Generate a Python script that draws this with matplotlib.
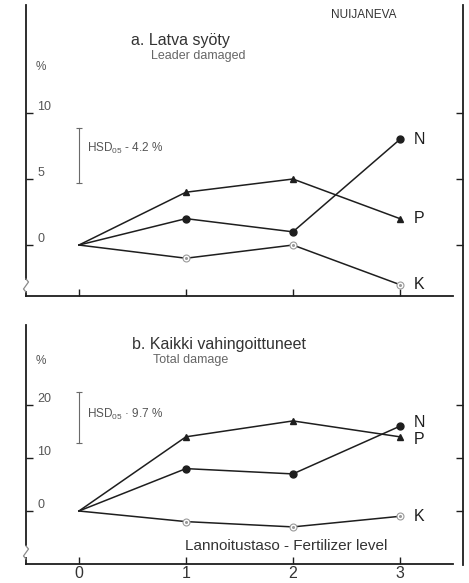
import matplotlib
matplotlib.use("Agg")
import matplotlib.pyplot as plt
from matplotlib.lines import Line2D

plt.rcParams["font.family"] = ["Liberation Sans", "DejaVu Sans"]
plt.rcParams["mathtext.fontset"] = "custom"
plt.rcParams["mathtext.rm"] = "Liberation Sans"
plt.rcParams["mathtext.it"] = "Liberation Sans"

# Lannoitustaso (fertilizer level)
levels = [0, 1, 2, 3]

# a. Latva syöty / Leader damaged (%)
a_N = [0, 2, 1, 8]
a_P = [0, 4, 5, 2]
a_K = [0, -1, 0, -3]
a_hsd = 4.2

# b. Kaikki vahingoittuneet / Total damage (%)
b_N = [0, 8, 7, 16]
b_P = [0, 14, 17, 14]
b_K = [0, -2, -3, -1]
b_hsd = 9.7

W, H = 469, 583
fig = plt.figure(figsize=(W / 100, H / 100), dpi=100)


def fx(px):
    return px / W


def fy(py):
    return 1 - py / H


LINE = "#1e1e1e"
GREY = "#555555"


def draw_panel(ax, N, P, K, ylim, yticks, brk, hsd_y0, hsd, hsd_text, hsd_ty, lab_y):
    ax.set_xlim(-0.495, 3.59)
    ax.set_ylim(*ylim)
    for s in ("top", "right"):
        ax.spines[s].set_visible(False)
    ax.spines["bottom"].set_bounds(-0.495, 3.5)
    ax.spines["left"].set_bounds(brk[0], ylim[1])
    for s in ("bottom", "left"):
        ax.spines[s].set_linewidth(1.3)
        ax.spines[s].set_color(LINE)

    # short segment under the axis break
    ax.plot([-0.495, -0.495], [ylim[0], brk[1]], color=LINE, lw=1.3, clip_on=False)

    ax.set_xticks(levels)
    ax.set_yticks(yticks)
    ax.tick_params(axis="both", direction="in", length=5, width=1, color=LINE)
    ax.tick_params(axis="y", right=True, labelsize=9, labelcolor=GREY, pad=-8)
    for lbl in ax.get_yticklabels():
        lbl.set_ha("left")
        lbl.set_va("bottom")

    ax.plot(levels, P, color=LINE, lw=1.1, marker="^", ms=4.5, markevery=[1, 2, 3],
            mfc=LINE, mec=LINE, zorder=3)
    ax.plot(levels, N, color=LINE, lw=1.1, marker="o", ms=5, markevery=[1, 2, 3],
            mfc=LINE, mec=LINE, zorder=3)
    ax.plot(levels, K, color=LINE, lw=1.1, zorder=2)
    ax.plot(levels[1:], K[1:], ls="none", marker="o", ms=5, mfc="white", mec="#9a9a9a",
            mew=0.8, zorder=4)
    ax.plot(levels[1:], K[1:], ls="none", marker="o", ms=1.2, mfc="#9a9a9a", mec="#9a9a9a",
            zorder=5)

    # HSD bar
    ax.plot([0, 0], [hsd_y0, hsd_y0 + hsd], color="#6a6a6a", lw=0.8, marker="_", ms=4,
            mew=0.8)
    ax.text(0.075, hsd_ty, hsd_text, fontsize=8.5, color="#555555", va="center", ha="left")

    for name, y in zip(["N", "P", "K"], lab_y):
        ax.text(3.13, y, name, fontsize=11.5, color=LINE, va="center", ha="left")


ax_a = fig.add_axes([fx(26), fy(296), fx(463) - fx(26), fy(5) - fy(296)])
draw_panel(ax_a, a_N, a_P, a_K, (-3.86, 18.18), [0, 5, 10], (-2.58, -3.56),
           4.7, a_hsd, "HSD$_{05}$ - 4.2 %", 7.35, [8, 2, -3])
ax_a.tick_params(axis="x", labelbottom=False)

ax_b = fig.add_axes([fx(26), fy(564), fx(463) - fx(26), fy(325) - fy(564)])
draw_panel(ax_b, b_N, b_P, b_K, (-10.0, 35.1), [0, 10, 20], (-6.4, -8.8),
           12.8, b_hsd, "HSD$_{05}$ · 9.7 %", 18.3, [16.7, 13.5, -1.0])
ax_b.tick_params(axis="x", labelsize=11.5, labelcolor="#333333", pad=1.5)

# axis break marks
for y0 in (279, 546):
    xs = [26, 28.5, 23.5, 26]
    ys = [y0, y0 + 3, y0 + 10, y0 + 13]
    fig.add_artist(Line2D([fx(x) for x in xs], [fy(y) for y in ys], color="#8a8a8a", lw=0.9))

# continuous right border line
fig.add_artist(Line2D([fx(463), fx(463)], [fy(5), fy(565)], color=LINE, lw=1.3))

# texts
fig.text(fx(331), fy(15), "NUIJANEVA", fontsize=8.5, color="#333333", va="center", ha="left")
fig.text(fx(131), fy(40), "a. Latva syöty", fontsize=11.5, color="#333333", va="center", ha="left")
fig.text(fx(151), fy(56), "Leader damaged", fontsize=9, color="#666666", va="center", ha="left")
fig.text(fx(41), fy(67), "%", fontsize=8.5, color=GREY, va="center", ha="center")

fig.text(fx(132), fy(344), "b. Kaikki vahingoittuneet", fontsize=11.5, color="#333333",
         va="center", ha="left")
fig.text(fx(153), fy(360), "Total damage", fontsize=9, color="#666666", va="center", ha="left")
fig.text(fx(41), fy(361), "%", fontsize=8.5, color=GREY, va="center", ha="center")
fig.text(fx(185), fy(546), "Lannoitustaso - Fertilizer level", fontsize=11, color="#333333",
         va="center", ha="left")

fig.savefig("out.png", dpi=100)
